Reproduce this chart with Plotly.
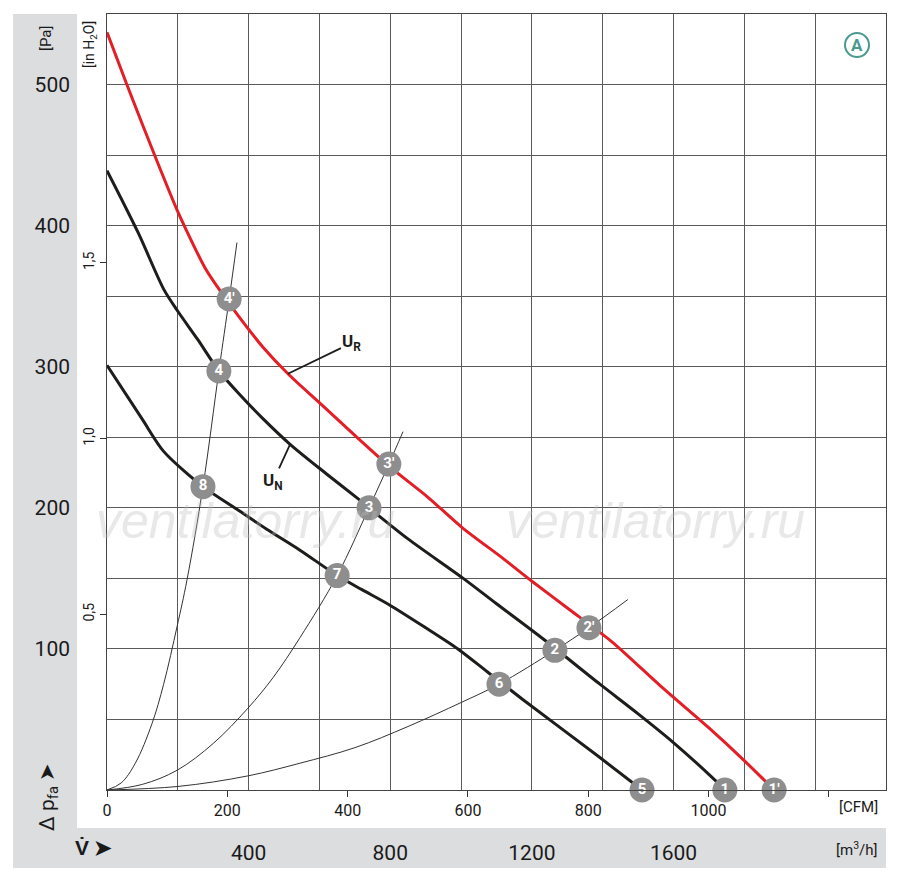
import plotly.graph_objects as go

PA_PER_INH2O = 249.089
M3H_PER_CFM = 1.69901

# ---- data (flow in m3/h, pressure in Pa) ----
ur_flow = [0, 56, 136, 198, 220, 277, 319, 380, 440, 511, 602, 706, 799, 904, 1003, 1119, 1200, 1300, 1426, 1562, 1700, 1799, 1884]
ur_pa = [537, 500, 449, 411, 399, 370, 354, 333, 314, 295, 274, 250, 229, 208, 186, 164, 148, 129, 105, 74, 44, 21, 0]

un_flow = [0, 88, 160, 198, 257, 316, 376, 441, 517, 620, 706, 740, 850, 1006, 1100, 1232, 1392, 1500, 1598, 1717, 1745]
un_pa = [439, 395, 355, 340, 319, 297, 280, 263, 245, 224, 207, 200, 178, 150, 132, 107, 75, 54, 34, 7, 0]

low_flow = [0, 99, 160, 271, 367, 450, 545, 650, 720, 799, 900, 991, 1073, 1175, 1392, 1511]
low_pa = [301, 263, 240, 215, 199, 185, 170, 152, 142, 131, 115, 100, 84, 64, 23, 0]

sys_a_flow = [0, 40, 80, 127, 160, 198, 226, 271, 316, 345, 367]
sys_a_pa = [0, 5, 19, 47, 75, 116, 149, 215, 297, 348, 388]

sys_b_flow = [0, 100, 198, 300, 398, 470, 545, 650, 740, 796, 836]
sys_b_pa = [0, 4, 14, 33, 58, 80, 108, 152, 200, 231, 254]

sys_c_flow = [0, 200, 398, 545, 700, 850, 1000, 1107, 1265, 1361, 1471]
sys_c_pa = [0, 2.5, 10, 19, 30, 45, 62, 75, 99, 115, 135]

op_labels = ["1", "2", "3", "4", "5", "6", "7", "8", "1'", "2'", "3'", "4'"]
op_flow = [1745, 1265, 740, 316, 1511, 1107, 650, 271, 1884, 1361, 796, 345]
op_pa = [0, 99, 200, 297, 0, 75, 152, 215, 0, 115, 231, 348]

pa_ticks = [100, 200, 300, 400, 500]
inh2o_ticks = [0.5, 1.0, 1.5]
inh2o_text = ["0,5", "1,0", "1,5"]
cfm_ticks = [0, 200, 400, 600, 800, 1000, 1200]
cfm_text = ["0", "200", "400", "600", "800", "1000", ""]
m3h_ticks = [400, 800, 1200, 1600]

X_MAX = 2200
Y_MAX = 550

FONT = "Liberation Sans Narrow, Roboto, Liberation Sans, sans-serif"
RED = "#e41e26"
BLACK = "#1d1d1b"
GRID = "#5a5a5a"
BAND = "#dcdddf"
DOT = "#8e8e8e"
TEAL = "#4a9a8e"

fig = go.Figure()

for fx, fy in [(sys_a_flow, sys_a_pa), (sys_b_flow, sys_b_pa), (sys_c_flow, sys_c_pa)]:
    fig.add_trace(go.Scatter(x=fx, y=fy, mode="lines", line=dict(color="#333333", width=1, shape="spline"),
                             hoverinfo="skip", showlegend=False, cliponaxis=False))

for fx, fy, col in [(low_flow, low_pa, BLACK), (un_flow, un_pa, BLACK), (ur_flow, ur_pa, RED)]:
    fig.add_trace(go.Scatter(x=fx, y=fy, mode="lines", line=dict(color=col, width=3, shape="spline", smoothing=0.8),
                             hoverinfo="skip", showlegend=False, cliponaxis=False))

fig.add_trace(go.Scatter(x=op_flow, y=op_pa, mode="markers+text", text=op_labels,
                         textposition="middle center",
                         textfont=dict(color="white", size=15, family=FONT, weight="bold"),
                         marker=dict(size=25, color=DOT, line=dict(width=0)),
                         hoverinfo="skip", showlegend=False, cliponaxis=False))

# dummy traces to activate the extra axes
fig.add_trace(go.Scatter(x=[None], y=[None], xaxis="x2", yaxis="y2", showlegend=False))
fig.add_trace(go.Scatter(x=[None], y=[None], xaxis="x3", yaxis="y3", showlegend=False))

fig.update_layout(
    width=892, height=872,
    margin=dict(l=99, r=14, t=6, b=90),
    paper_bgcolor="white", plot_bgcolor="white",
    font=dict(family=FONT, color="#1a1a1a"),
    xaxis=dict(range=[0, X_MAX], dtick=200, tick0=0, showgrid=True, gridcolor=GRID, gridwidth=1,
               showticklabels=False, ticks="", zeroline=False,
               showline=True, linecolor="#444444", linewidth=1, mirror=True),
    yaxis=dict(range=[0, Y_MAX], dtick=50, tick0=0, showgrid=True, gridcolor=GRID, gridwidth=1,
               showticklabels=False, ticks="", zeroline=False,
               showline=True, linecolor="#444444", linewidth=1, mirror=True),
    xaxis2=dict(overlaying="x", anchor="y", side="bottom", range=[0, X_MAX], tickvals=m3h_ticks,
                showgrid=False, zeroline=False, ticks="", ticklabelstandoff=48,
                tickfont=dict(size=21, family=FONT, color="#1a1a1a"), showline=False),
    yaxis2=dict(overlaying="y", anchor="x", side="left", range=[0, Y_MAX], tickvals=pa_ticks,
                showgrid=False, zeroline=False, ticks="", ticklabelstandoff=36,
                tickfont=dict(size=21, family=FONT, color="#1a1a1a"), showline=False),
    xaxis3=dict(overlaying="x", anchor="free", position=0, side="bottom",
                range=[0, X_MAX / M3H_PER_CFM], tickvals=cfm_ticks, ticktext=cfm_text,
                showgrid=False, zeroline=False, ticks="outside", ticklen=6, tickcolor="#333333",
                tickfont=dict(size=16, family=FONT, color="#1a1a1a"), showline=False),
    yaxis3=dict(overlaying="y", anchor="free", position=0, side="left",
                range=[0, Y_MAX / PA_PER_INH2O], tickvals=inh2o_ticks, ticktext=inh2o_text,
                showgrid=False, zeroline=False, ticks="outside", ticklen=7, tickcolor="#333333",
                tickangle=-90, tickfont=dict(size=14, family=FONT, color="#1a1a1a"), showline=False),
)

def px_x(p):
    return (p - 107) / 779.0

def px_y(p):
    return (790 - p) / 776.0

shapes = [
    dict(type="rect", xref="paper", yref="paper", x0=px_x(13), x1=px_x(77), y0=px_y(868), y1=px_y(14),
         fillcolor=BAND, line=dict(width=0), layer="below"),
    dict(type="rect", xref="paper", yref="paper", x0=px_x(13), x1=px_x(886), y0=px_y(868), y1=px_y(828),
         fillcolor=BAND, line=dict(width=0), layer="below"),
    dict(type="circle", xref="paper", yref="paper", x0=px_x(845), x1=px_x(869), y0=px_y(57), y1=px_y(33),
         fillcolor="white", line=dict(color=TEAL, width=2)),
]
fig.update_layout(shapes=shapes)

ann = []
def txt(x, y, s, size, angle=0, color="#1a1a1a", bold=False, xanchor="center", family=FONT, italic=False):
    f = dict(size=size, color=color, family=family)
    if bold:
        f["weight"] = "bold"
    if italic:
        f["style"] = "italic"
    ann.append(dict(x=px_x(x), y=px_y(y), xref="paper", yref="paper", text=s, showarrow=False,
                    textangle=angle, font=f, xanchor=xanchor, yanchor="middle"))

# watermark
txt(245, 521, "ventilatorry.ru", 50, color="rgba(190,190,190,0.35)", italic=True, family="Liberation Sans, sans-serif")
txt(655, 521, "ventilatorry.ru", 50, color="rgba(190,190,190,0.35)", italic=True, family="Liberation Sans, sans-serif")

txt(46, 38, "[Pa]", 15, angle=-90)
txt(90, 45, "[in H<sub>2</sub>O]", 14, angle=-90)
txt(48, 797, "Δ p<sub>fa</sub> ➤", 21, angle=-90)
txt(93, 848, "V\u0307 ➤", 21, bold=True)
txt(856, 849, "[m<sup>3</sup>/h]", 15)
txt(858, 807, "[CFM]", 15)
txt(857, 45, "A", 17, color=TEAL, bold=True)

ann.append(dict(x=511, y=295, xref="x", yref="y", text="U<sub>R</sub>", showarrow=True, arrowhead=0,
                arrowwidth=1.8, arrowcolor=BLACK, ax=64, ay=-31, standoff=0,
                font=dict(size=17, family=FONT, color=BLACK, weight="bold")))
ann.append(dict(x=517, y=245, xref="x", yref="y", text="U<sub>N</sub>", showarrow=True, arrowhead=0,
                arrowwidth=1.8, arrowcolor=BLACK, ax=-17, ay=37, standoff=0,
                font=dict(size=17, family=FONT, color=BLACK, weight="bold")))
fig.update_layout(annotations=ann)

fig.write_html("out.html")
